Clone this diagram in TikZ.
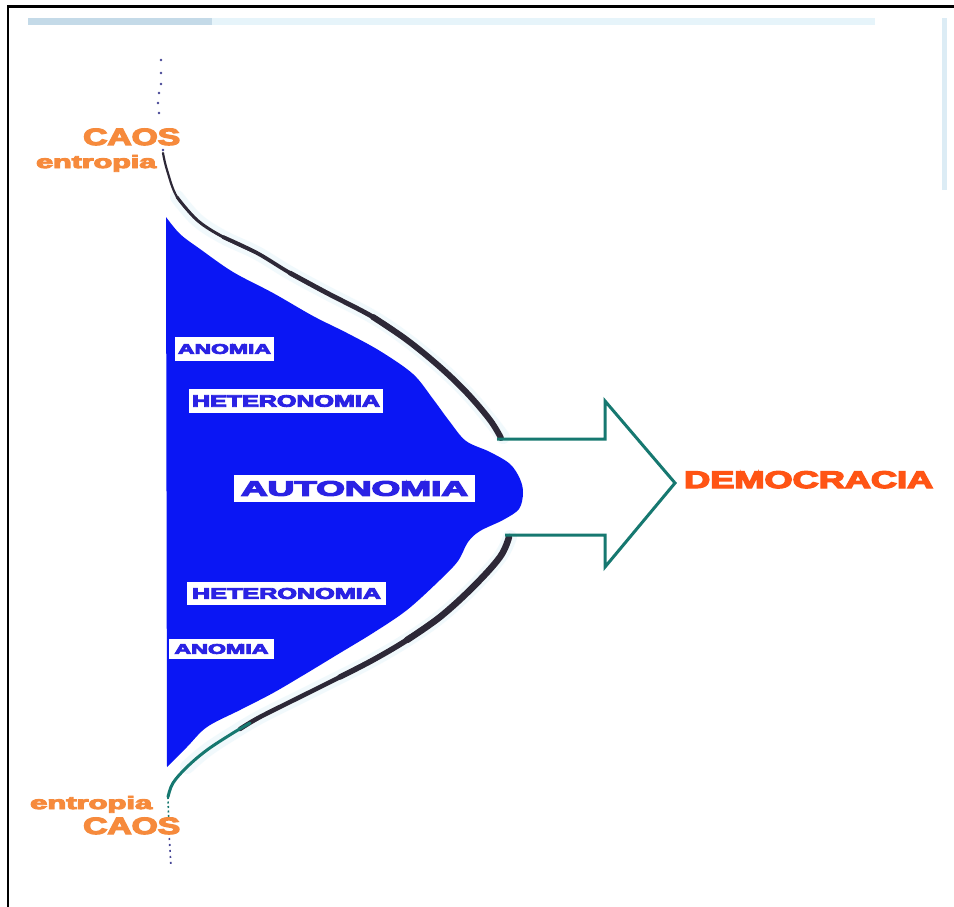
\documentclass[tikz,border=0pt]{standalone}
\usepackage{fontspec}
\setmainfont{Liberation Sans}
\newfontfamily\heavyfont[FakeBold=5]{Liberation Sans Bold}
\usetikzlibrary{calc}

\definecolor{blobblue}{RGB}{10,22,244}
\definecolor{lblblue}{RGB}{42,34,228}
\definecolor{caosorange}{RGB}{246,138,60}
\definecolor{demoorange}{RGB}{255,84,20}
\definecolor{arrowteal}{RGB}{22,120,112}
\definecolor{curvedark}{RGB}{45,40,55}
\definecolor{dotblue}{RGB}{70,70,150}
\definecolor{haze}{RGB}{226,243,249}
\definecolor{barsteel}{RGB}{196,218,232}
\definecolor{barpale}{RGB}{230,244,250}

% stretch a heavy sans text horizontally to a given width
\newcommand\stretchtext[3]{\resizebox{#1}{\height}{\fontsize{#2}{#2}\selectfont\heavyfont #3}}

\tikzset{
  lbl/.style={fill=white, inner sep=0pt, text=lblblue},
  orangetxt/.style={fill=white, inner sep=1pt, anchor=base west, text=caosorange},
  curveline/.style={curvedark, line cap=round, line join=round},
  halo/.style={haze, line width=14pt, line cap=round, opacity=0.45},
}

\begin{document}
\begin{tikzpicture}[x=1pt,y=-1pt]
\useasboundingbox (0,0) rectangle (954,907);
\fill[white] (0,0) rectangle (954,907);

% frame
\draw[line width=2.6pt] (8,907) -- (8,6.5) -- (954,6.5);

% pale strips along the top and right
\fill[barpale] (28,18) rectangle (875,25);
\fill[barsteel] (28,18) rectangle (212,25);
\fill[barpale!70!barsteel] (942,18) rectangle (947,190);

% soft glow along the curves
\draw[halo] plot[smooth, tension=0.6] coordinates {(177,197) (197,220) (223,237) (257,253) (290,273) (327,293) (373,317) (407,340) (440,367) (467,393) (490,420) (503,437)};
\draw[halo] plot[smooth, tension=0.6] coordinates {(510,537) (500,557) (473,587) (440,617) (407,640) (373,660) (340,677) (300,697) (260,717) (233,733) (207,750) (187,767)};

% the blue region
\fill[blobblue] plot[smooth, tension=0.55] coordinates {
  (166,217) (180,234) (200,249) (233,272) (273,293) (313,316) (347,333)
  (380,351) (413,374) (433,399) (450,422) (466,441) (490,452) (510,464)
  (520,479) (523,493) (519,509) (503,520) (480,531) (468,542) (458,561)
  (440,580) (407,610) (373,633) (340,653) (307,673) (273,693) (240,710)
  (207,727) (187,747) (167,767)} -- cycle;

% upper boundary curve, thickening towards the arrow
\draw[curveline, line width=2.2pt] plot[smooth, tension=0.6] coordinates {(163,153) (167,170) (177,197) (197,220)};
\draw[curveline, line width=3pt] plot[smooth, tension=0.6] coordinates {(177,197) (197,220) (223,237) (257,253)};
\draw[curveline, line width=3.8pt] plot[smooth, tension=0.6] coordinates {(223,237) (257,253) (290,273) (327,293)};
\draw[curveline, line width=4.8pt] plot[smooth, tension=0.6] coordinates {(290,273) (327,293) (373,317) (407,340)};
\draw[curveline, line width=6pt] plot[smooth, tension=0.6] coordinates {(373,317) (407,340) (440,367) (467,393) (490,420) (501,438)};

% lower boundary curve, dark then teal
\draw[curveline, line width=6.5pt] plot[smooth, tension=0.6] coordinates {(509,537) (500,557) (473,587) (440,617) (407,640)};
\draw[curveline, line width=5.5pt] plot[smooth, tension=0.6] coordinates {(440,617) (407,640) (373,660) (340,677)};
\draw[curveline, line width=4.5pt] plot[smooth, tension=0.6] coordinates {(373,660) (340,677) (300,697) (260,717) (240,729)};
\draw[arrowteal, line width=3pt, line cap=round] plot[smooth, tension=0.6] coordinates {(250,723) (233,733) (207,750) (187,767) (173,783) (168,797)};

% dotted continuations
\foreach \p in {(161,60),(161,73),(161,84),(159,93),(158,103),(159,113),(163,150)}
  \fill[dotblue] \p circle (1.4pt);
\draw[arrowteal, line width=1.6pt, dash pattern=on 2pt off 2.5pt] (168,797) -- (169,830);
\draw[dotblue, line width=1.6pt, dash pattern=on 2pt off 4pt] (169,832) -- (171,867);

% the arrow
\coordinate (a1) at (497,439);
\coordinate (a2) at (605,439);
\coordinate (a3) at (605,401);
\coordinate (tip) at (675,483);
\coordinate (a5) at (605,567);
\coordinate (a6) at (605,535);
\coordinate (a7) at (505,535);
\draw[arrowteal, line width=3pt, line join=miter] (a1) -- (a2) -- (a3) -- (tip) -- (a5) -- (a6) -- (a7);

% labels on the blue region
\node[lbl, minimum width=99pt, minimum height=24pt] (anom1) at (224.5,349)
  {\stretchtext{93pt}{14}{ANOMIA}};
\node[lbl, minimum width=194pt, minimum height=24pt] (heter1) at (286,401)
  {\stretchtext{188pt}{16.5}{HETERONOMIA}};
\node[lbl, minimum width=241pt, minimum height=27pt] (auto) at (354.5,488.5)
  {\stretchtext{227pt}{21}{AUTONOMIA}};
\node[lbl, minimum width=199pt, minimum height=23pt] (heter2) at (286.5,593.5)
  {\stretchtext{189pt}{15.5}{HETERONOMIA}};
\node[lbl, minimum width=105pt, minimum height=20pt] (anom2) at (221.5,649)
  {\stretchtext{94pt}{14}{ANOMIA}};

% orange labels
\node[orangetxt] (caos1) at (82,145) {\stretchtext{97pt}{23.5}{CAOS}};
\node[orangetxt] (entr1) at (35,168) {\stretchtext{120pt}{18}{entropia}};
\node[orangetxt] (entr2) at (29,809) {\stretchtext{122pt}{18}{entropia}};
\node[orangetxt] (caos2) at (82,834) {\stretchtext{97pt}{23.5}{CAOS}};
\node[orangetxt, text=demoorange] (demo) at (683,488) {\stretchtext{249pt}{24}{DEMOCRACIA}};
\end{tikzpicture}
\end{document}
